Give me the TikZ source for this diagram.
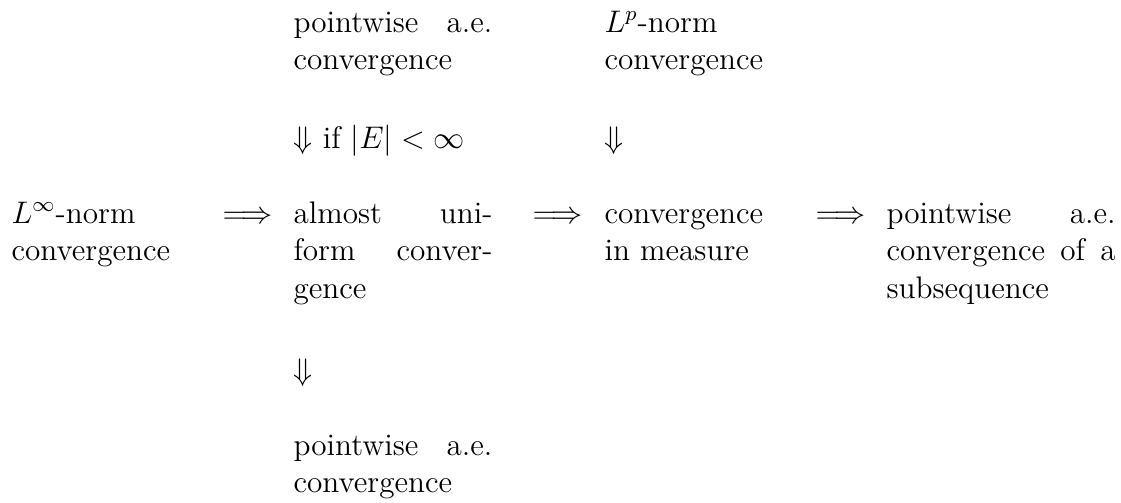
\documentclass[tikz,border=0pt,12pt]{standalone}
\usepackage{amsmath}

\begin{document}
\begin{tikzpicture}[x=0.3846pt,y=0.3846pt,yscale=-1,xscale=1]
\tikzset{cell/.style={anchor=base west,inner sep=0pt,align=justify}}
%set diagram left start at 0, and has height of 502
\useasboundingbox (0,0) rectangle (1121,502);

% Text Node
\draw (11,223) node [cell][text width=71.9pt] (linf) {$L^\infty$-norm\newline convergence};
% Text Node
\draw (222,223) node [cell] (imp1) {$\Longrightarrow$};
% Text Node
\draw (293,32) node [cell][text width=76.5pt] (ptop) {pointwise a.e. convergence};
% Text Node
\draw (293,148) node [cell] (dfin) {$\Downarrow$ if $|E|<\infty$};
% Text Node
\draw (293,223) node [cell][text width=76.5pt] (aunif) {almost uniform convergence};
% Text Node
\draw (293,380) node [cell] (dbot) {$\Downarrow$};
% Text Node
\draw (293,455) node [cell][text width=76.5pt] (pbot) {pointwise a.e. convergence};
% Text Node
\draw (532,223) node [cell] (imp2) {$\Longrightarrow$};
% Text Node
\draw (604,32) node [cell][text width=71.9pt] (lp) {$L^p$-norm\newline convergence};
% Text Node
\draw (604,148) node [cell] (dlp) {$\Downarrow$};
% Text Node
\draw (604,223) node [cell][text width=71.9pt] (meas) {convergence in measure};
% Text Node
\draw (815,223) node [cell] (imp3) {$\Longrightarrow$};
% Text Node
\draw (886,223) node [cell][text width=88.1pt] (psub) {pointwise a.e. convergence of a subsequence};

\end{tikzpicture}
\end{document}
